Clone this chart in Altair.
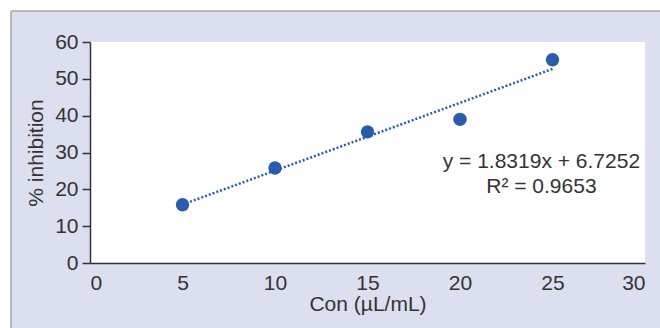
import altair as alt
import pandas as pd

conc = [5, 10, 15, 20, 25]
inhibition = [15.8, 25.8, 35.6, 39.0, 55.2]
eq_lines = ["y = 1.8319x + 6.7252", "R\u00b2 = 0.9653"]

df = pd.DataFrame({"x": conc, "y": inhibition})

W, H = 555, 221
BLUE = "#2b5cab"
FONT = "Liberation Sans"
FS = 21
one = pd.DataFrame({"a": [0]})

# white margin strips and gray frame outside the light panel
top_strip = alt.Chart(one).mark_rect(fill="white").encode(
    x=alt.value(-90), x2=alt.value(W + 15), y=alt.value(-42), y2=alt.value(-31))
left_strip = alt.Chart(one).mark_rect(fill="white").encode(
    x=alt.value(-90), x2=alt.value(-79), y=alt.value(-42), y2=alt.value(H + 65))
top_line = alt.Chart(one).mark_rule(color="#a8a8a8", strokeWidth=1.5).encode(
    x=alt.value(-79), x2=alt.value(W + 15), y=alt.value(-31))
left_line = alt.Chart(one).mark_rule(color="#a8a8a8", strokeWidth=1.5).encode(
    x=alt.value(-79), y=alt.value(-31), y2=alt.value(H + 65))

xscale = alt.Scale(domain=[0, 30], nice=False)
yscale = alt.Scale(domain=[0, 60], nice=False)

xaxis = alt.Axis(values=[0, 5, 10, 15, 20, 25, 30], ticks=False, labelOverlap=False)
yaxis = alt.Axis(values=[0, 10, 20, 30, 40, 50, 60], ticks=True, labelOverlap=False)

X = alt.X("x:Q", scale=xscale, axis=xaxis, title="Con (\u00b5L/mL)")
Y = alt.Y("y:Q", scale=yscale, axis=yaxis, title="% inhibition")

trend = alt.Chart(df).transform_regression("x", "y", method="linear", extent=[5, 25]).mark_line(
    color=BLUE, strokeWidth=2.5, strokeDash=[2, 2]
).encode(x=X, y=Y)

points = alt.Chart(df).mark_circle(color=BLUE, opacity=1, size=180).encode(x=X, y=Y)

label = alt.Chart(one).mark_text(
    text=eq_lines, font=FONT, fontSize=FS, color="#333333", lineHeight=25,
    align="center", baseline="middle",
).encode(
    x=alt.X(datum=24.4, type="quantitative", scale=xscale, axis=xaxis, title="Con (\u00b5L/mL)"),
    y=alt.Y(datum=27.4, type="quantitative", scale=yscale, axis=yaxis, title="% inhibition"),
)

chart = alt.layer(top_strip, left_strip, top_line, left_line, trend, points, label).properties(
    width=W, height=H,
    autosize=alt.AutoSizeParams(type="none"),
    padding={"left": 90, "top": 42, "right": 15, "bottom": 65},
    background="#dcdfef",
).configure_view(stroke=None, fill="white").configure_axis(
    grid=False, domainColor="#333333", domainWidth=1.5,
    labelFont=FONT, labelFontSize=FS, labelColor="#333333",
    titleFont=FONT, titleFontSize=FS, titleFontWeight="normal", titleColor="#333333",
    tickColor="#333333", tickWidth=1.5, tickSize=8,
).configure_axisX(labelPadding=9, titlePadding=0).configure_axisY(labelPadding=4, titlePadding=8)

chart.save("out.html", embed_options={"renderer": "svg", "actions": False})
